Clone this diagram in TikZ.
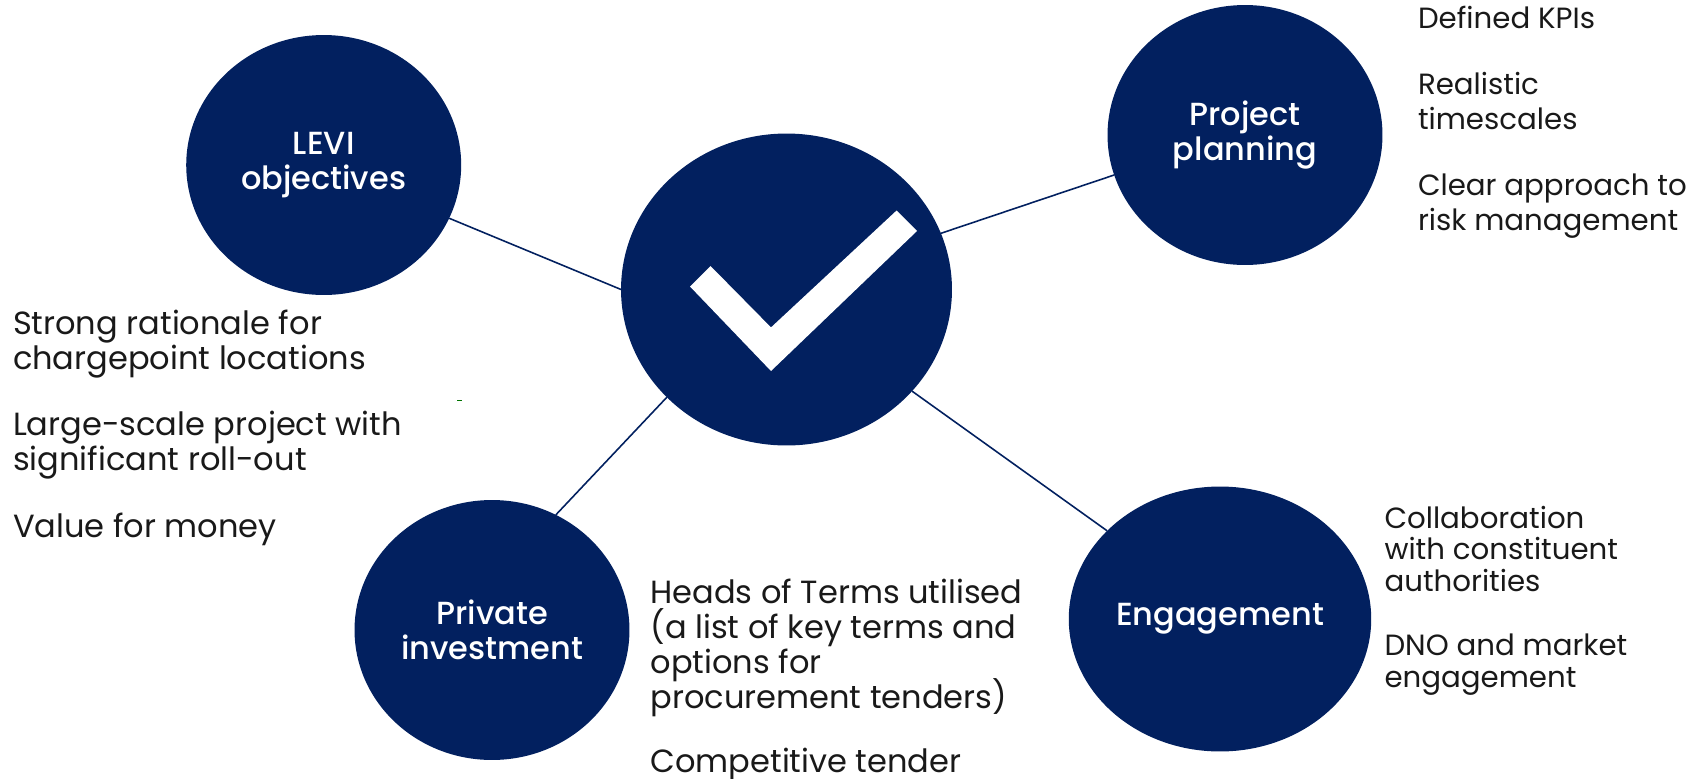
\documentclass[tikz,border=0pt]{standalone}
\usepackage{fontspec}
\setmainfont{Poppins}
\newfontfamily\medfont{Poppins Medium}
\usetikzlibrary{shapes.geometric}
\definecolor{navy}{HTML}{02205F}
\lineskiplimit=-6pt
\tikzset{topic/.style={ellipse, fill=navy, text=white, inner sep=0pt, outer sep=0pt, align=center, font=\medfont\fontsize{18.2}{20}\selectfont}}
\tikzset{note/.style={anchor=north west, inner sep=0pt, outer sep=0pt, align=left, text=black!90, font=\fontsize{18.25}{20}\selectfont}}
\tikzset{smallnote/.style={note, font=\fontsize{16.65}{20}\selectfont}}
\tikzset{link/.style={draw=navy, line width=0.9pt}}

\begin{document}
\begin{tikzpicture}[x=0.02cm,y=-0.02cm]
		\useasboundingbox (0,0) rectangle (1700,778);

		\node[topic, minimum width=6.62cm, minimum height=6.24cm] (C) at (786.5,289.5){};
		\node[topic, minimum width=5.5cm, minimum height=5.2cm] (L) at (323.7,165){LEVI\\objectives};
		\node[topic, minimum width=5.5cm, minimum height=5.2cm] (P) at (1245,135){Project\\planning};
		\node[topic, minimum width=5.5cm, minimum height=5.2cm] (I) at (492,630){Private\\investment};
		\node[topic, minimum width=6.05cm, minimum height=5.3cm] (E) at (1220,619){Engagement};

		\draw[link] (L.-23) -- (C.180);
		\draw[link] (P.197) -- (C.20);
		\draw[link] (I.61) -- (C.222);
		\draw[link] (E.142) -- (C.-39);

		% tick
		\fill[white] (690,286.5) -- (710.5,266) -- (771,327.4) -- (896.6,210.5) -- (917,231) -- (771,371) -- cycle;
		\fill[green!45!black] (457,399.5) rectangle (462,401);

		\node[note] (Ln) at (13,310){Strong rationale for\\chargepoint locations\\[0.62cm]Large-scale project with\\significant roll-out\\[0.62cm]Value for money};
		\node[smallnote] (Pn) at (1418,6){Defined KPIs\\[0.62cm]Realistic\\timescales\\[0.62cm]Clear approach to\\risk management};
		\node[note] (In) at (650.5,579){Heads of Terms utilised\\(a list of key terms and\\options for\\procurement tenders)\\[0.56cm]Competitive tender};
		\node[smallnote, font=\fontsize{16.65}{18}\selectfont] (En) at (1384.5,506){Collaboration\\with constituent\\authorities\\[0.65cm]DNO and market\\engagement};
\end{tikzpicture}
\end{document}
